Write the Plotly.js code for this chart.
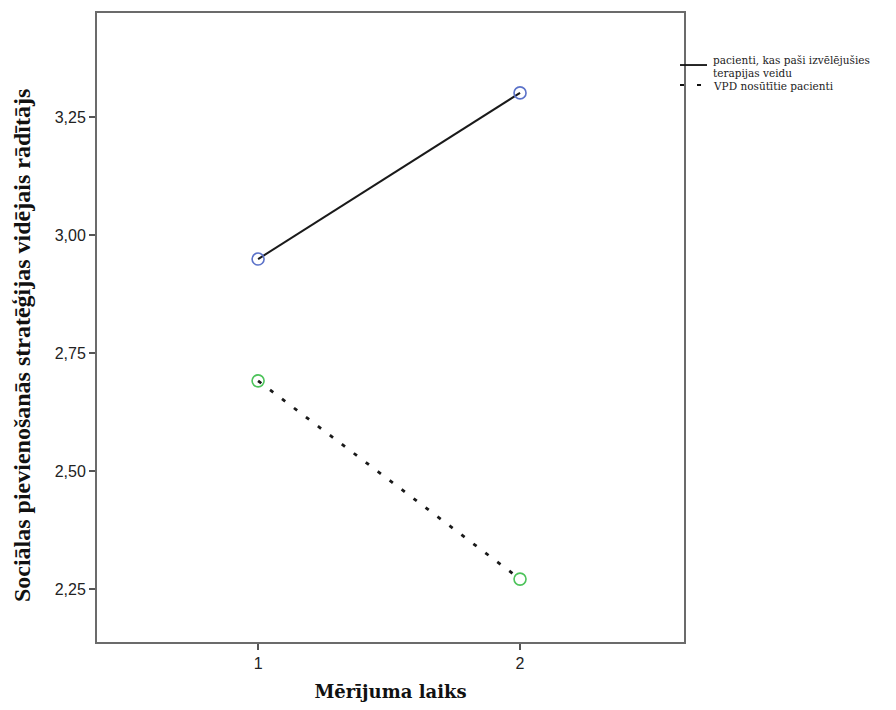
<!DOCTYPE html>
<html>
<head>
<meta charset="utf-8">
<script src="https://cdn.plot.ly/plotly-3.0.1.min.js"></script>
<style>html,body{margin:0;padding:0;background:#fff;}</style>
</head>
<body>
<div id="chart" style="width:896px;height:710px;"></div>
<script>
const timePoints = [1, 2];
const seriesNames = ["pacienti, kas paši izvēlējušies<br>terapijas veidu", "VPD nosūtītie pacienti"];
const selfChosen = [2.949, 3.301];
const referred = [2.691, 2.271];
const yTicks = [2.25, 2.50, 2.75, 3.00, 3.25];
const yTickLabels = ["2,25", "2,50", "2,75", "3,00", "3,25"];
const xTicks = [1, 2];
const xTickLabels = ["1", "2"];
const xTitle = "Mērījuma laiks";
const yTitle = "Sociālas pievienošanās stratēģijas vidējais rādītājs";

const traces = [
  {
    x: timePoints, y: selfChosen, type: "scatter", mode: "lines+markers",
    line: {color: "#1a1a1a", width: 2},
    marker: {symbol: "circle-open", size: 12, color: "#5b72c9", line: {width: 1.6, color: "#5b72c9"}},
    showlegend: false, hoverinfo: "x+y"
  },
  {
    x: timePoints, y: referred, type: "scatter", mode: "lines+markers",
    line: {color: "#1a1a1a", width: 2.8, dash: "4px,11px"},
    marker: {symbol: "circle-open", size: 12, color: "#4cc35a", line: {width: 1.6, color: "#4cc35a"}},
    showlegend: false, hoverinfo: "x+y"
  }
];

const nameLines = seriesNames[0].split("<br>");
const legendFont = {family: "DejaVu Serif, serif", size: 10.5, color: "#222"};

const layout = {
  width: 896, height: 710,
  margin: {l: 97, r: 212, t: 13, b: 68},
  paper_bgcolor: "#ffffff", plot_bgcolor: "#ffffff",
  showlegend: false,
  xaxis: {
    range: [0.385, 2.626],
    tickvals: xTicks, ticktext: xTickLabels,
    ticks: "outside", ticklen: 6, tickwidth: 2, tickcolor: "#555",
    showline: true, linecolor: "#6b6b6b", linewidth: 2, mirror: true,
    showgrid: false, zeroline: false,
    tickfont: {family: "Liberation Sans, Arial, sans-serif", size: 16, color: "#222"},
    title: {text: "<b>" + xTitle + "</b>", font: {family: "DejaVu Serif, serif", size: 18, color: "#111"}, standoff: 14}
  },
  yaxis: {
    range: [2.1377, 3.4703],
    tickvals: yTicks, ticktext: yTickLabels,
    ticks: "outside", ticklen: 6, tickwidth: 2, tickcolor: "#555",
    showline: true, linecolor: "#6b6b6b", linewidth: 2, mirror: true,
    showgrid: false, zeroline: false,
    tickfont: {family: "Liberation Sans, Arial, sans-serif", size: 16, color: "#222"}
  },
  shapes: [
    {type: "line", xref: "paper", yref: "paper", x0: 0.9932, x1: 1.0392, y0: 0.9173, y1: 0.9173, line: {color: "#111", width: 1.8}},
    {type: "line", xref: "paper", yref: "paper", x0: 0.9932, x1: 1.0307, y0: 0.8855, y1: 0.8855, line: {color: "#111", width: 1.8, dash: "4px,13px"}}
  ],
  annotations: [
    {xref: "paper", yref: "paper", x: -0.1278, y: 0.472, xanchor: "center", yanchor: "middle", showarrow: false, textangle: -90,
     text: "<b>" + yTitle + "</b>", font: {family: "Liberation Serif, Times New Roman, serif", size: 24, color: "#111"}},
    {xref: "paper", yref: "paper", x: 1.0460, y: 0.9253, xanchor: "left", yanchor: "middle", align: "left", showarrow: false,
     text: nameLines[0], font: legendFont},
    {xref: "paper", yref: "paper", x: 1.0460, y: 0.9046, xanchor: "left", yanchor: "middle", align: "left", showarrow: false,
     text: nameLines[1], font: legendFont},
    {xref: "paper", yref: "paper", x: 1.0460, y: 0.8839, xanchor: "left", yanchor: "middle", align: "left", showarrow: false,
     text: seriesNames[1], font: legendFont}
  ]
};

Plotly.newPlot("chart", traces, layout, {displayModeBar: false, staticPlot: true});
</script>
</body>
</html>
